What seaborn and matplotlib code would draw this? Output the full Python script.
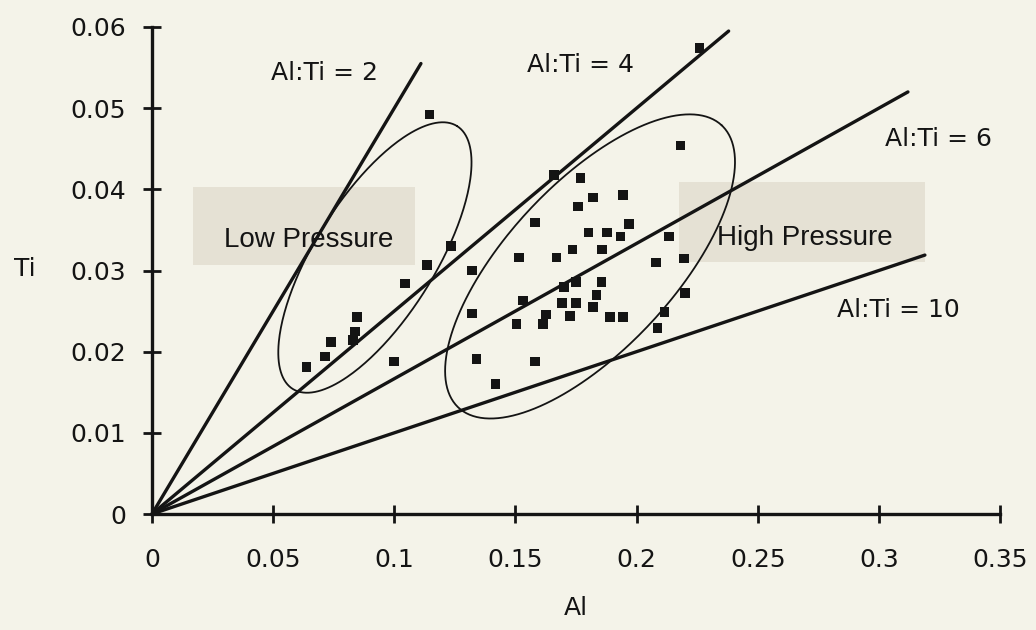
import numpy as np
import pandas as pd
import matplotlib
matplotlib.use("Agg")
import matplotlib.pyplot as plt
import seaborn as sns
from matplotlib.patches import Rectangle

# ---------------- data ----------------
al_values = [0.0638, 0.0714, 0.0739, 0.0830, 0.0838, 0.0847, 0.0999, 0.1044, 0.1134, 0.1145, 0.1233,
             0.1320, 0.1320, 0.1340, 0.1417, 0.1505, 0.1530, 0.1516, 0.1582, 0.1582, 0.1615, 0.1626,
             0.1659, 0.1670, 0.1691, 0.1700, 0.1725, 0.1736, 0.1749, 0.1750, 0.1757, 0.1769, 0.1802,
             0.1821, 0.1821, 0.1835, 0.1856, 0.1857, 0.1879, 0.1890, 0.1934, 0.1945, 0.1945, 0.1969,
             0.2079, 0.2087, 0.2115, 0.2135, 0.2182, 0.2196, 0.2200, 0.2259]
ti_values = [0.0181, 0.0194, 0.0212, 0.0214, 0.0225, 0.0243, 0.0188, 0.0284, 0.0307, 0.0492, 0.0330,
             0.0300, 0.0247, 0.0191, 0.0160, 0.0234, 0.0263, 0.0316, 0.0359, 0.0188, 0.0234, 0.0246,
             0.0418, 0.0316, 0.0260, 0.0280, 0.0244, 0.0326, 0.0260, 0.0286, 0.0379, 0.0414, 0.0347,
             0.0390, 0.0255, 0.0270, 0.0286, 0.0326, 0.0347, 0.0243, 0.0342, 0.0393, 0.0243, 0.0357,
             0.0310, 0.0229, 0.0249, 0.0342, 0.0454, 0.0315, 0.0272, 0.0574]

ratios = [2, 4, 6, 10]
ratio_line_end_al = [0.111, 0.238, 0.312, 0.319]
ratio_labels = ["Al:Ti = 2", "Al:Ti = 4", "Al:Ti = 6", "Al:Ti = 10"]
ratio_label_pos = [(0.0714, 0.0543), (0.177, 0.0553), (0.3248, 0.0462), (0.3079, 0.0251)]

region_labels = ["Low Pressure", "High Pressure"]
region_label_pos = [(0.0648, 0.0338), (0.2695, 0.0340)]
region_boxes = [(0.0169, 0.0307, 0.0916, 0.0096), (0.2175, 0.0310, 0.1015, 0.0099)]
# ellipses: centre (Al, Ti), semi-axes in pixels, angle in degrees (screen space)
ellipses = [((0.0920, 0.0316), 155, 60, 58), ((0.1808, 0.0305), 193, 83, 47)]

x_ticks = [0, 0.05, 0.1, 0.15, 0.2, 0.25, 0.3, 0.35]
x_tick_labels = ["0", "0.05", "0.1", "0.15", "0.2", "0.25", "0.3", "0.35"]
y_ticks = [0, 0.01, 0.02, 0.03, 0.04, 0.05, 0.06]
y_tick_labels = ["0", "0.01", "0.02", "0.03", "0.04", "0.05", "0.06"]

# ---------------- style ----------------
sns.set_theme(style="white")
bg = "#f4f3e9"
plt.rcParams["font.family"] = ["DejaVu Sans"]

fig = plt.figure(figsize=(10.36, 6.30), dpi=100, facecolor=bg)
ax = fig.add_axes([152 / 1036, 1 - 514 / 630, 848 / 1036, 487 / 630])
ax.set_facecolor(bg)
ax.set_xlim(0, 0.35)
ax.set_ylim(0, 0.06)

ink = "#141414"

# shaded region boxes
for (bx, by, bw, bh) in region_boxes:
    ax.add_patch(Rectangle((bx, by), bw, bh, facecolor="#e5e1d4", edgecolor="none", zorder=0.5))
for lab, (lx, ly) in zip(region_labels, region_label_pos):
    ax.text(lx, ly, lab, ha="center", va="center", fontsize=20,
            family=["Liberation Sans", "DejaVu Sans"], color=ink, zorder=1)

# ratio lines
for r, xe in zip(ratios, ratio_line_end_al):
    xs = np.array([0.0, xe])
    df_line = pd.DataFrame({"Al": xs, "Ti": xs / r})
    sns.lineplot(data=df_line, x="Al", y="Ti", ax=ax, color=ink, lw=2.4, clip_on=False, zorder=3)
for lab, (lx, ly) in zip(ratio_labels, ratio_label_pos):
    ax.text(lx, ly, lab, ha="center", va="center", fontsize=18, color=ink, zorder=4)

# ellipses drawn in screen-proportional units
px_x = 0.35 / 848
px_y = 0.06 / 487
t = np.linspace(0, 2 * np.pi, 300)
for (cx, cy), a, b, ang in ellipses:
    th = np.deg2rad(ang)
    ex = a * np.cos(t) * np.cos(th) - b * np.sin(t) * np.sin(th)
    ey = a * np.cos(t) * np.sin(th) + b * np.sin(t) * np.cos(th)
    ax.plot(cx + ex * px_x, cy + ey * px_y, color=ink, lw=1.3, zorder=3)

# points
df = pd.DataFrame({"Al": al_values, "Ti": ti_values})
sns.scatterplot(data=df, x="Al", y="Ti", ax=ax, marker="s", s=48, color=ink,
                edgecolor="none", linewidth=0, zorder=5, clip_on=False)

# axes
sns.despine(ax=ax)
for side in ["left", "bottom"]:
    ax.spines[side].set_linewidth(2.4)
    ax.spines[side].set_color(ink)
ax.set_xticks(x_ticks)
ax.set_xticklabels(x_tick_labels)
ax.set_yticks(y_ticks)
ax.set_yticklabels(y_tick_labels)
ax.tick_params(axis="both", which="major", bottom=True, left=True, direction="inout",
               length=13, width=2.0, color=ink, labelsize=18, labelcolor=ink)
ax.tick_params(axis="x", pad=18)
ax.tick_params(axis="y", pad=12)
ax.set_xlabel("Al", fontsize=18, color=ink, labelpad=17)
ax.set_ylabel("Ti", fontsize=18, color=ink, rotation=0, ha="center", va="center")
ax.yaxis.set_label_coords(-0.15, 0.503)

fig.savefig("out.png", dpi=100, facecolor=bg)
